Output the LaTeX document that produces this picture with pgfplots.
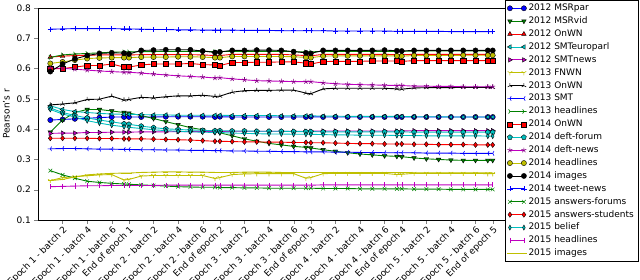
\documentclass[border=0pt]{standalone}
\usepackage{fontspec}
\setmainfont{DejaVu Sans}
\usepackage{pgfplots}
\pgfplotsset{compat=1.18}
\usepackage{pgfplotstable}
\usetikzlibrary{plotmarks}
\definecolor{mb}{rgb}{0,0,1}
\definecolor{mg}{rgb}{0,0.5,0}
\definecolor{mr}{rgb}{1,0,0}
\definecolor{mc}{rgb}{0,0.75,0.75}
\definecolor{mm}{rgb}{0.75,0,0.75}
\definecolor{my}{rgb}{0.75,0.75,0}
\definecolor{mk}{rgb}{0,0,0}
\pgfplotstableread[header=false]{
xx 1 2 3 4 5 6 7 7.4 8.4 9.4 10.4 11.4 12.4 13.4 14.4 14.8 15.8 16.8 17.8 18.8 19.8 20.8 21.8 22.2 23.2 24.2 25.2 26.2 27.2 28.2 29.2 29.6 30.6 31.6 32.6 33.6 34.6 35.6 36.6 37.0
sa 0.430 0.432 0.434 0.436 0.438 0.440 0.440 0.440 0.440 0.440 0.441 0.441 0.441 0.441 0.440 0.441 0.440 0.440 0.440 0.440 0.440 0.440 0.440 0.441 0.440 0.440 0.440 0.440 0.440 0.440 0.440 0.440 0.440 0.440 0.440 0.440 0.440 0.440 0.440 0.440
sb 0.390 0.430 0.455 0.465 0.465 0.460 0.455 0.453 0.445 0.435 0.425 0.415 0.405 0.398 0.390 0.388 0.378 0.368 0.360 0.353 0.348 0.343 0.340 0.338 0.332 0.327 0.322 0.318 0.315 0.312 0.310 0.309 0.305 0.302 0.300 0.298 0.297 0.297 0.297 0.297
sc 0.638 0.641 0.643 0.644 0.645 0.645 0.645 0.645 0.646 0.646 0.646 0.646 0.646 0.645 0.643 0.643 0.647 0.647 0.647 0.647 0.647 0.645 0.643 0.642 0.647 0.647 0.647 0.647 0.647 0.647 0.646 0.646 0.647 0.647 0.647 0.647 0.647 0.647 0.647 0.647
sd 0.477 0.465 0.458 0.455 0.452 0.450 0.449 0.449 0.448 0.447 0.447 0.446 0.446 0.446 0.446 0.446 0.445 0.445 0.445 0.445 0.444 0.444 0.444 0.444 0.443 0.443 0.442 0.442 0.442 0.442 0.442 0.442 0.441 0.441 0.441 0.440 0.440 0.440 0.440 0.440
se 0.386 0.387 0.387 0.389 0.389 0.390 0.390 0.390 0.391 0.391 0.391 0.392 0.392 0.392 0.392 0.392 0.393 0.393 0.393 0.393 0.393 0.393 0.393 0.393 0.394 0.394 0.394 0.394 0.394 0.394 0.394 0.394 0.395 0.395 0.395 0.395 0.395 0.395 0.395 0.395
sf 0.230 0.240 0.243 0.246 0.249 0.250 0.232 0.234 0.245 0.247 0.247 0.247 0.247 0.247 0.237 0.240 0.250 0.252 0.253 0.253 0.253 0.253 0.238 0.240 0.253 0.254 0.254 0.254 0.254 0.254 0.250 0.251 0.254 0.254 0.254 0.254 0.254 0.254 0.253 0.253
sg 0.480 0.483 0.487 0.498 0.499 0.509 0.496 0.498 0.505 0.503 0.507 0.510 0.510 0.512 0.508 0.509 0.522 0.527 0.528 0.528 0.529 0.529 0.519 0.517 0.533 0.535 0.535 0.535 0.535 0.535 0.533 0.532 0.536 0.537 0.537 0.537 0.538 0.538 0.538 0.538
sh 0.335 0.336 0.336 0.335 0.334 0.334 0.333 0.333 0.332 0.332 0.331 0.331 0.330 0.330 0.329 0.329 0.328 0.328 0.327 0.327 0.326 0.326 0.325 0.325 0.325 0.324 0.324 0.323 0.323 0.322 0.322 0.322 0.322 0.321 0.321 0.321 0.320 0.320 0.320 0.320
si 0.637 0.645 0.648 0.650 0.652 0.654 0.655 0.655 0.656 0.656 0.657 0.657 0.657 0.657 0.656 0.656 0.657 0.657 0.657 0.657 0.657 0.656 0.655 0.655 0.657 0.657 0.657 0.657 0.657 0.657 0.657 0.657 0.658 0.658 0.658 0.658 0.658 0.658 0.658 0.658
sj 0.600 0.600 0.605 0.610 0.610 0.615 0.605 0.605 0.612 0.615 0.615 0.615 0.617 0.613 0.612 0.610 0.620 0.620 0.621 0.621 0.622 0.622 0.618 0.615 0.623 0.624 0.624 0.624 0.625 0.625 0.625 0.624 0.626 0.626 0.626 0.626 0.626 0.626 0.626 0.626
sk 0.470 0.455 0.445 0.437 0.430 0.424 0.418 0.416 0.410 0.405 0.401 0.399 0.397 0.396 0.395 0.395 0.394 0.394 0.393 0.393 0.393 0.392 0.392 0.392 0.391 0.391 0.391 0.391 0.391 0.391 0.391 0.391 0.390 0.390 0.390 0.390 0.390 0.390 0.390 0.390
sl 0.601 0.601 0.598 0.595 0.592 0.590 0.588 0.588 0.585 0.582 0.579 0.576 0.574 0.572 0.569 0.570 0.566 0.563 0.560 0.559 0.558 0.557 0.557 0.557 0.553 0.550 0.548 0.547 0.546 0.545 0.544 0.544 0.542 0.542 0.541 0.541 0.540 0.540 0.540 0.540
sm 0.617 0.622 0.628 0.633 0.635 0.636 0.636 0.636 0.638 0.638 0.638 0.639 0.639 0.638 0.636 0.636 0.640 0.640 0.640 0.640 0.640 0.639 0.637 0.636 0.641 0.642 0.642 0.642 0.642 0.642 0.642 0.641 0.643 0.643 0.643 0.643 0.644 0.644 0.644 0.644
sn 0.590 0.615 0.632 0.643 0.650 0.652 0.651 0.648 0.660 0.661 0.662 0.662 0.662 0.658 0.653 0.655 0.660 0.660 0.661 0.661 0.660 0.656 0.652 0.650 0.660 0.660 0.660 0.660 0.660 0.661 0.659 0.658 0.660 0.660 0.660 0.660 0.660 0.660 0.660 0.660
so 0.730 0.731 0.732 0.732 0.732 0.732 0.731 0.731 0.730 0.729 0.729 0.728 0.728 0.727 0.727 0.727 0.727 0.726 0.726 0.726 0.725 0.725 0.725 0.725 0.725 0.724 0.724 0.724 0.724 0.724 0.723 0.723 0.723 0.723 0.723 0.722 0.722 0.722 0.722 0.722
sp 0.263 0.249 0.238 0.228 0.224 0.221 0.219 0.218 0.216 0.214 0.212 0.210 0.209 0.208 0.208 0.207 0.207 0.206 0.206 0.205 0.205 0.205 0.205 0.205 0.204 0.204 0.204 0.203 0.203 0.203 0.203 0.203 0.202 0.202 0.202 0.201 0.201 0.201 0.201 0.201
sq 0.370 0.370 0.370 0.370 0.369 0.369 0.368 0.368 0.368 0.367 0.366 0.365 0.364 0.362 0.360 0.360 0.359 0.358 0.358 0.357 0.357 0.356 0.356 0.355 0.355 0.354 0.353 0.352 0.352 0.351 0.351 0.351 0.350 0.350 0.349 0.349 0.349 0.348 0.348 0.348
sr 0.465 0.450 0.440 0.428 0.420 0.413 0.408 0.406 0.402 0.398 0.395 0.393 0.391 0.390 0.389 0.389 0.387 0.386 0.385 0.384 0.384 0.383 0.383 0.383 0.382 0.381 0.381 0.380 0.380 0.380 0.379 0.379 0.379 0.378 0.378 0.378 0.378 0.378 0.377 0.377
ss 0.210 0.211 0.212 0.213 0.213 0.214 0.214 0.214 0.214 0.214 0.215 0.215 0.215 0.215 0.215 0.215 0.215 0.215 0.215 0.215 0.215 0.215 0.215 0.215 0.216 0.216 0.216 0.216 0.216 0.216 0.216 0.216 0.216 0.216 0.216 0.216 0.216 0.216 0.216 0.216
st 0.230 0.234 0.242 0.249 0.252 0.254 0.255 0.255 0.257 0.258 0.259 0.259 0.258 0.258 0.257 0.257 0.257 0.258 0.258 0.258 0.257 0.257 0.257 0.257 0.257 0.257 0.257 0.257 0.257 0.257 0.257 0.257 0.256 0.256 0.256 0.256 0.256 0.256 0.256 0.256
}\raw
\pgfplotstabletranspose[colnames from=0]{\data}{\raw}
\begin{document}
\begin{tikzpicture}
\begin{axis}[
  scale only axis, width=467pt, height=212pt,
  xmin=0, xmax=38, ymin=0.1, ymax=0.8,
  font=\fontsize{9}{10.8}\selectfont,
  axis line style={line width=0.8pt},
  tick align=outside, tick pos=left, major tick length=3.5pt,
  xtick={2,4,6,7.4,9.4,11.4,13.4,14.8,16.8,18.8,20.8,22.2,24.2,26.2,28.2,29.6,31.6,33.6,35.6,37.0},
  xticklabels={Epoch 1 - batch 2,Epoch 1 - batch 4,Epoch 1 - batch 6,End of epoch 1,
    Epoch 2 - batch 2,Epoch 2 - batch 4,Epoch 2 - batch 6,End of epoch 2,
    Epoch 3 - batch 2,Epoch 3 - batch 4,Epoch 3 - batch 6,End of epoch 3,
    Epoch 4 - batch 2,Epoch 4 - batch 4,Epoch 4 - batch 6,End of epoch 4,
    Epoch 5 - batch 2,Epoch 5 - batch 4,Epoch 5 - batch 6,End of epoch 5},
  xticklabel style={rotate=45, anchor=north east, inner sep=1pt},
  ytick={0.1,0.2,0.3,0.4,0.5,0.6,0.7,0.8},
  yticklabel style={/pgf/number format/.cd, fixed, fixed zerofill, precision=1, assume math mode=true},
  ylabel={Pearson's r},
  every axis plot/.append style={line width=0.9pt, mark size=2.6pt},
  legend image code/.code={\draw plot coordinates {(0pt,0pt) (14pt,0pt)};},
  legend cell align=left,
  legend style={at={(1,1.0377)}, anchor=north west, draw=black, line width=0.6pt,
    font=\fontsize{9}{10}\selectfont, inner xsep=2pt, inner ysep=1.5pt,
    nodes={inner ysep=2.2pt, text height=6.6pt, text depth=1.9pt}},
]
\addplot[mb, mark=*, mark options={solid, fill=mb, draw=black, line width=0.4pt}] table[x=xx, y=sa] {\data};
\addlegendentry{2012 MSRpar}
\addplot[mg, mark=triangle*, mark options={solid, rotate=180, fill=mg, draw=black, line width=0.4pt}] table[x=xx, y=sb] {\data};
\addlegendentry{2012 MSRvid}
\addplot[mr, mark=triangle*, mark options={solid, fill=mr, draw=black, line width=0.4pt}] table[x=xx, y=sc] {\data};
\addlegendentry{2012 OnWN}
\addplot[mc, mark=triangle*, mark options={solid, rotate=90, fill=mc, draw=black, line width=0.4pt}] table[x=xx, y=sd] {\data};
\addlegendentry{2012 SMTeuroparl}
\addplot[mm, mark=triangle*, mark options={solid, rotate=-90, fill=mm, draw=black, line width=0.4pt}] table[x=xx, y=se] {\data};
\addlegendentry{2012 SMTnews}
\addplot[my, mark=Mercedes star flipped, mark options={solid, draw=my, line width=0.6pt}] table[x=xx, y=sf] {\data};
\addlegendentry{2013 FNWN}
\addplot[mk, mark=Mercedes star, mark options={solid, draw=mk, line width=0.6pt}] table[x=xx, y=sg] {\data};
\addlegendentry{2013 OnWN}
\addplot[mb, mark=Mercedes star, mark options={solid, rotate=90, draw=mb, line width=0.6pt}] table[x=xx, y=sh] {\data};
\addlegendentry{2013 SMT}
\addplot[mg, mark=Mercedes star, mark options={solid, rotate=-90, draw=mg, line width=0.6pt}] table[x=xx, y=si] {\data};
\addlegendentry{2013 headlines}
\addplot[mr, mark=square*, mark options={solid, fill=mr, draw=black, line width=0.4pt}] table[x=xx, y=sj] {\data};
\addlegendentry{2014 OnWN}
\addplot[mc, mark=pentagon*, mark options={solid, fill=mc, draw=black, line width=0.4pt}] table[x=xx, y=sk] {\data};
\addlegendentry{2014 deft-forum}
\addplot[mm, mark=star, mark options={solid, draw=mm!70!black, line width=0.6pt}] table[x=xx, y=sl] {\data};
\addlegendentry{2014 deft-news}
\addplot[my, mark=*, mark options={solid, fill=my, draw=black, line width=0.4pt}] table[x=xx, y=sm] {\data};
\addlegendentry{2014 headlines}
\addplot[mk, mark=*, mark options={solid, fill=mk, draw=black, line width=0.4pt}] table[x=xx, y=sn] {\data};
\addlegendentry{2014 images}
\addplot[mb, mark=+, mark options={solid, draw=mb, line width=0.5pt}] table[x=xx, y=so] {\data};
\addlegendentry{2014 tweet-news}
\addplot[mg, mark=x, mark options={solid, draw=mg, line width=0.5pt}] table[x=xx, y=sp] {\data};
\addlegendentry{2015 answers-forums}
\addplot[mr, mark=diamond*, mark options={solid, fill=mr, draw=black, line width=0.4pt}] table[x=xx, y=sq] {\data};
\addlegendentry{2015 answers-students}
\addplot[mc, mark=diamond*, mark options={solid, xscale=0.7, fill=mc, draw=black, line width=0.4pt}] table[x=xx, y=sr] {\data};
\addlegendentry{2015 belief}
\addplot[mm, mark=|, mark options={solid, draw=mm, line width=0.5pt}] table[x=xx, y=ss] {\data};
\addlegendentry{2015 headlines}
\addplot[my, mark=-, mark options={solid, draw=my, line width=0.5pt}] table[x=xx, y=st] {\data};
\addlegendentry{2015 images}
\end{axis}
\pgfresetboundingbox
\path[use as bounding box] (-38pt,-59pt) rectangle (602pt,220pt);
\end{tikzpicture}
\end{document}
